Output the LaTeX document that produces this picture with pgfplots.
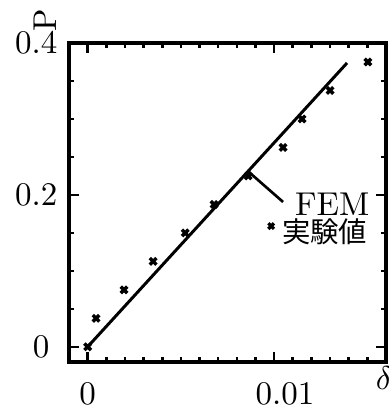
\documentclass[border=0pt]{standalone}
\usepackage{pgfplots}
\pgfplotsset{compat=1.18}
\usepackage{fontspec}
\newfontfamily\cjk{Noto Sans CJK JP}

\begin{document}
\begin{tikzpicture}
\begin{axis}[
  scale only axis, width=96.06pt, height=96.67pt,
  xmin=-0.001, xmax=0.016, ymin=-0.02, ymax=0.4,
  axis line style={line width=1.1pt},
  xtick={0,0.01}, xticklabels={0,\kern6.6pt 0.01},
  ytick={0,0.2,0.4}, yticklabels={0\kern2.4pt,0.2,0.4},
  minor xtick={0.001,0.002,0.003,0.004,0.005,0.006,0.007,0.008,0.009,0.011,0.012,0.013,0.014,0.015},
  minor ytick={0.05,0.1,0.15,0.25,0.3,0.35},
  scaled ticks=false,
  tick align=inside,
  major tick length=3pt, minor tick length=1.5pt,
  every tick/.style={black, line width=0.8pt},
  xticklabel style={inner sep=0pt, yshift=-6pt},
  clip=false,
]
% FEM solution
\addplot[black, line width=0.9pt] coordinates {(0,0) (0.01391,0.3737)};
% measured values
\addplot[black, only marks, mark=x, mark size=1.4pt, mark options={line width=1.05pt}] coordinates {
  (0,0) (0.00045,0.0375) (0.00195,0.075) (0.00351,0.1125) (0.00523,0.150)
  (0.00678,0.1875) (0.00861,0.225) (0.01048,0.2625) (0.01150,0.300)
  (0.01300,0.3375) (0.01503,0.375)};
% key symbol for the measured values
\addplot[black, only marks, mark=x, mark size=1.2pt, mark options={line width=1pt}] coordinates {(0.00984,0.159)};
% leader from the FEM line to its label
\addplot[black, line width=0.8pt] coordinates {(0.0086,0.2311) (0.01048,0.1907)};
\node[anchor=east, inner sep=0pt] at (axis cs:0.01514,0.188) {FEM};
\node[anchor=east, inner sep=0pt, font=\cjk\fontsize{8.6pt}{10pt}\selectfont] at (axis cs:0.01503,0.1511) {実験値};
\node[rotate=90, inner sep=0pt] at (axis cs:-0.00228,0.4303) {P};
\node[inner sep=0pt] at (axis cs:0.01589,-0.041) {$\delta$};
\end{axis}
\pgfresetboundingbox
\useasboundingbox (-20.91pt,-13.33pt) rectangle (96.67pt,109.7pt);
\end{tikzpicture}
\end{document}
